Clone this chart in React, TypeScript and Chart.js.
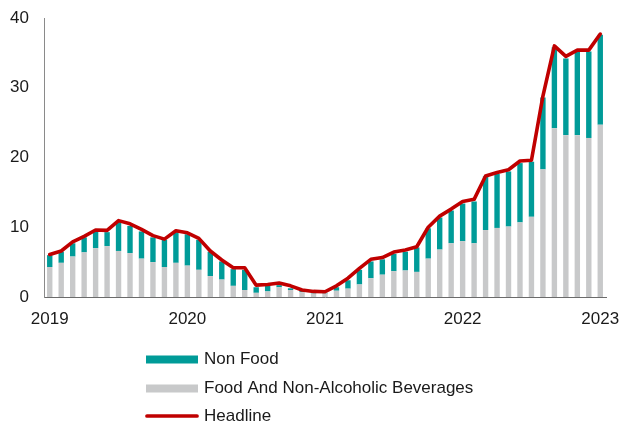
import React, { useEffect, useRef } from 'react';
import { Chart, registerables } from 'chart.js';

Chart.register(...registerables);

const categories = [
  '2019-01','2019-02','2019-03','2019-04','2019-05','2019-06','2019-07','2019-08','2019-09','2019-10','2019-11','2019-12',
  '2020-01','2020-02','2020-03','2020-04','2020-05','2020-06','2020-07','2020-08','2020-09','2020-10','2020-11','2020-12',
  '2021-01','2021-02','2021-03','2021-04','2021-05','2021-06','2021-07','2021-08','2021-09','2021-10','2021-11','2021-12',
  '2022-01','2022-02','2022-03','2022-04','2022-05','2022-06','2022-07','2022-08','2022-09','2022-10','2022-11','2022-12',
  '2023-01',
];

const foodValues = [
  4.3, 4.9, 5.8, 6.4, 7.0, 7.3, 6.6, 6.3, 5.5, 5.0, 4.3, 4.9,
  4.5, 3.9, 3.0, 2.5, 1.6, 1.0, 0.6, 0.8, 1.4, 1.0, 0.7, 0.5,
  0.5, 0.9, 1.2, 1.8, 2.7, 3.2, 3.7, 3.8, 3.6, 5.5, 6.8, 7.7,
  8.0, 7.7, 9.6, 9.9, 10.1, 10.7, 11.5, 18.3, 24.2, 23.2, 23.2, 22.8,
  24.7,
];

const nonFoodValues = [
  1.7, 1.6, 1.9, 2.15, 2.4, 2.0, 4.2, 3.9, 3.9, 3.55, 3.9, 4.4,
  4.5, 4.3, 3.5, 2.6, 2.4, 2.9, 0.8, 0.8, 0.3, 0.25, 0.15, 0.1,
  0.1, 0.5, 1.2, 2.1, 2.4, 2.2, 2.5, 2.7, 3.5, 4.35, 4.6, 4.7,
  5.4, 6.0, 7.7, 7.75, 7.9, 8.5, 7.9, 10.3, 11.6, 11.0, 12.0, 12.4,
  12.9,
];

const headlineValues = [
  6.1, 6.6, 7.9, 8.7, 9.6, 9.55, 10.95, 10.5, 9.7, 8.8, 8.3, 9.5,
  9.2, 8.4, 6.6, 5.3, 4.2, 4.2, 1.7, 1.8, 2.0, 1.6, 1.0, 0.8,
  0.75, 1.6, 2.7, 4.1, 5.4, 5.65, 6.45, 6.75, 7.2, 10.0, 11.6, 12.6,
  13.7, 14.0, 17.35, 17.85, 18.25, 19.5, 19.6, 28.8, 36.0, 34.5, 35.4, 35.4,
  37.7,
];

const yTicks = [0, 10, 20, 30, 40];
const seriesLabels = ['Non Food', 'Food And Non-Alcoholic Beverages', 'Headline'];

const FONT = '"Liberation Sans", Arial, sans-serif';
const FONT_SIZE = 17;
const TEAL = '#009B98';
const GREY = '#C8C9CA';
const RED = '#C00000';

const legendPlugin = {
  id: 'customLegend',
  afterDraw(chart: any) {
    const ctx = chart.ctx;
    ctx.save();
    ctx.font = `${FONT_SIZE}px ${FONT}`;
    ctx.textBaseline = 'middle';
    ctx.textAlign = 'left';
    const x0 = 146;
    const boxW = 52;
    const ys = [359.5, 388.5, 416];
    chart.data.datasets.forEach((ds: any, i: number) => {
      const y = ys[i];
      if (ds.type === 'line') {
        ctx.strokeStyle = ds.borderColor;
        ctx.lineWidth = 3.7;
        ctx.lineCap = 'round';
        ctx.beginPath();
        ctx.moveTo(x0 + 1, y);
        ctx.lineTo(x0 + boxW - 1, y);
        ctx.stroke();
      } else {
        ctx.fillStyle = ds.backgroundColor;
        ctx.fillRect(x0, y - 4, boxW, 8);
      }
      ctx.fillStyle = '#1a1a1a';
      ctx.fillText(ds.label, 204, y);
    });
    ctx.restore();
  },
};

export default function App() {
  const ref = useRef<HTMLCanvasElement | null>(null);

  useEffect(() => {
    if (!ref.current) return;
    const chart = new Chart(ref.current, {
      type: 'bar',
      data: {
        labels: categories,
        datasets: [
          {
            type: 'bar',
            label: seriesLabels[0],
            data: nonFoodValues,
            backgroundColor: TEAL,
            order: 2,
            stack: 'contrib',
            barPercentage: 0.47,
            categoryPercentage: 1,
          },
          {
            type: 'bar',
            label: seriesLabels[1],
            data: foodValues,
            backgroundColor: GREY,
            order: 1,
            stack: 'contrib',
            barPercentage: 0.47,
            categoryPercentage: 1,
          },
          {
            type: 'line',
            label: seriesLabels[2],
            data: headlineValues,
            borderColor: RED,
            backgroundColor: RED,
            borderWidth: 3.6,
            pointRadius: 0,
            tension: 0,
            order: 0,
            stack: 'line',
            borderJoinStyle: 'round',
            borderCapStyle: 'round',
          } as any,
        ],
      },
      options: {
        animation: false,
        responsive: true,
        maintainAspectRatio: false,
        layout: { padding: { top: 18, right: 14, left: 0, bottom: 0 } },
        plugins: {
          legend: { display: false },
          tooltip: { enabled: false },
        },
        scales: {
          x: {
            stacked: true,
            grid: { display: false, drawTicks: false },
            border: { display: true, color: '#6b6b6b', width: 1 },
            ticks: {
              autoSkip: false,
              maxRotation: 0,
              minRotation: 0,
              padding: 12,
              color: '#1a1a1a',
              font: { family: FONT, size: FONT_SIZE },
              callback: (_v: any, i: number) =>
                categories[i].endsWith('-01') ? categories[i].slice(0, 4) : '',
            },
            afterFit: (s: any) => {
              s.height = 126;
              s.paddingLeft = 0;
              s.paddingRight = 0;
            },
          },
          y: {
            stacked: true,
            min: yTicks[0],
            max: yTicks[yTicks.length - 1],
            grid: { display: false, drawTicks: false },
            border: { display: true, color: '#8a8a8a', width: 1 },
            afterBuildTicks: (s: any) => {
              s.ticks = yTicks.map((v) => ({ value: v }));
            },
            ticks: {
              padding: 15,
              color: '#1a1a1a',
              font: { family: FONT, size: FONT_SIZE },
            },
            afterFit: (s: any) => {
              s.width = 44;
              s.paddingTop = 0;
              s.paddingBottom = 0;
            },
          },
        },
      },
      plugins: [legendPlugin],
    });
    return () => chart.destroy();
  }, []);

  return (
    <div style={{ position: 'fixed', left: 0, top: 0, width: 620, height: 423, background: '#fff' }}>
      <canvas ref={ref} />
    </div>
  );
}
